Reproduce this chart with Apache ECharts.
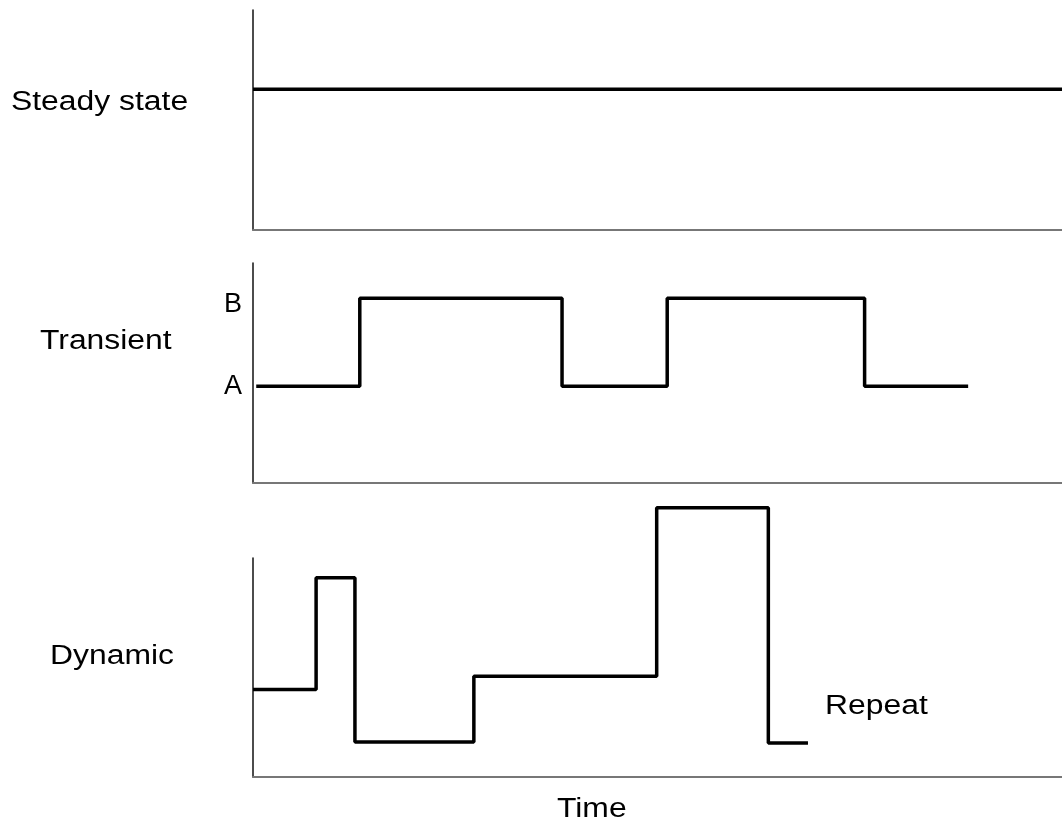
<!DOCTYPE html>
<html>
<head>
<meta charset="utf-8">
<script src="https://cdn.jsdelivr.net/npm/echarts@6/dist/echarts.min.js"></script>
<style>
  html, body {margin: 0; padding: 0; background: #fff;}
  #chart {width: 1062px; height: 825px;}
</style>
</head>
<body>
<div id="chart"></div>
<script>
// time runs 0..100 across each panel, levels 0..10 up each panel
const steadyTime = [0, 100]
const steadyLevel = [6.4, 6.4]

const levelA = 4.4
const levelB = 8.4
const transientTime = [0.4, 13.2, 13.2, 38.2, 38.2, 51.2, 51.2, 75.6, 75.6, 88.4]
const transientLevel = [levelA, levelA, levelB, levelB, levelA, levelA, levelB, levelB, levelA, levelA]

const dynamicTime = [0, 7.8, 7.8, 12.6, 12.6, 27.3, 27.3, 49.9, 49.9, 63.7, 63.7, 68.6]
const dynamicLevel = [4.0, 4.0, 9.1, 9.1, 1.6, 1.6, 4.6, 4.6, 12.3, 12.3, 1.55, 1.55]

const panelNames = ['Steady state', 'Transient', 'Dynamic']
const font = 'Liberation Sans, Arial, sans-serif'

const zip = (xs, ys) => xs.map((x, i) => [x, ys[i]])

const grids = [
  {left: 253, right: 0, top: 10, height: 220},
  {left: 253, right: 0, top: 263, height: 220},
  {left: 253, right: 0, top: 558, height: 219}
]

const axisLine = {show: true, lineStyle: {color: '#111', width: 1.5}}

const xAxes = grids.map((g, i) => ({
  type: 'value', gridIndex: i, min: 0, max: 100,
  axisLine: {show: true, lineStyle: {color: '#777', width: 2}},
  axisTick: {show: false}, axisLabel: {show: false}, splitLine: {show: false}
}))

const yAxes = grids.map((g, i) => ({
  type: 'value', gridIndex: i, min: 0, max: 10,
  axisLine: axisLine,
  axisTick: {show: false},
  splitLine: {show: false},
  axisLabel: i === 1 ? {
    show: true,
    // the B letter sits a little below its level in the reference
    customValues: [levelA, levelB - 0.3],
    formatter: v => (v < 6 ? 'A' : 'B'),
    fontSize: 27, color: '#000', fontFamily: font, margin: 11
  } : {show: false}
}))

const lineSeries = (i, data) => ({
  type: 'line', xAxisIndex: i, yAxisIndex: i,
  data: data, showSymbol: false, clip: false,
  lineStyle: {color: '#000', width: 3.5}, animation: false
})

// reference lettering is slightly stretched sideways
const textEl = (text, x, y) => ({
  type: 'text', x: x, y: y, scaleX: 1.18,
  style: {
    text: text, fill: '#000', fontSize: 27, fontFamily: font,
    align: 'left', verticalAlign: 'middle'
  }
})

const chart = echarts.init(document.getElementById('chart'))
chart.setOption({
  backgroundColor: '#fff',
  animation: false,
  grid: grids,
  xAxis: xAxes,
  yAxis: yAxes,
  series: [
    lineSeries(0, zip(steadyTime, steadyLevel)),
    lineSeries(1, zip(transientTime, transientLevel)),
    lineSeries(2, zip(dynamicTime, dynamicLevel))
  ],
  graphic: [
    textEl(panelNames[0], 11, 103),
    textEl(panelNames[1], 40, 342),
    textEl(panelNames[2], 50, 657),
    textEl('Repeat', 825, 707),
    textEl('Time', 557, 810)
  ]
})
</script>
</body>
</html>
